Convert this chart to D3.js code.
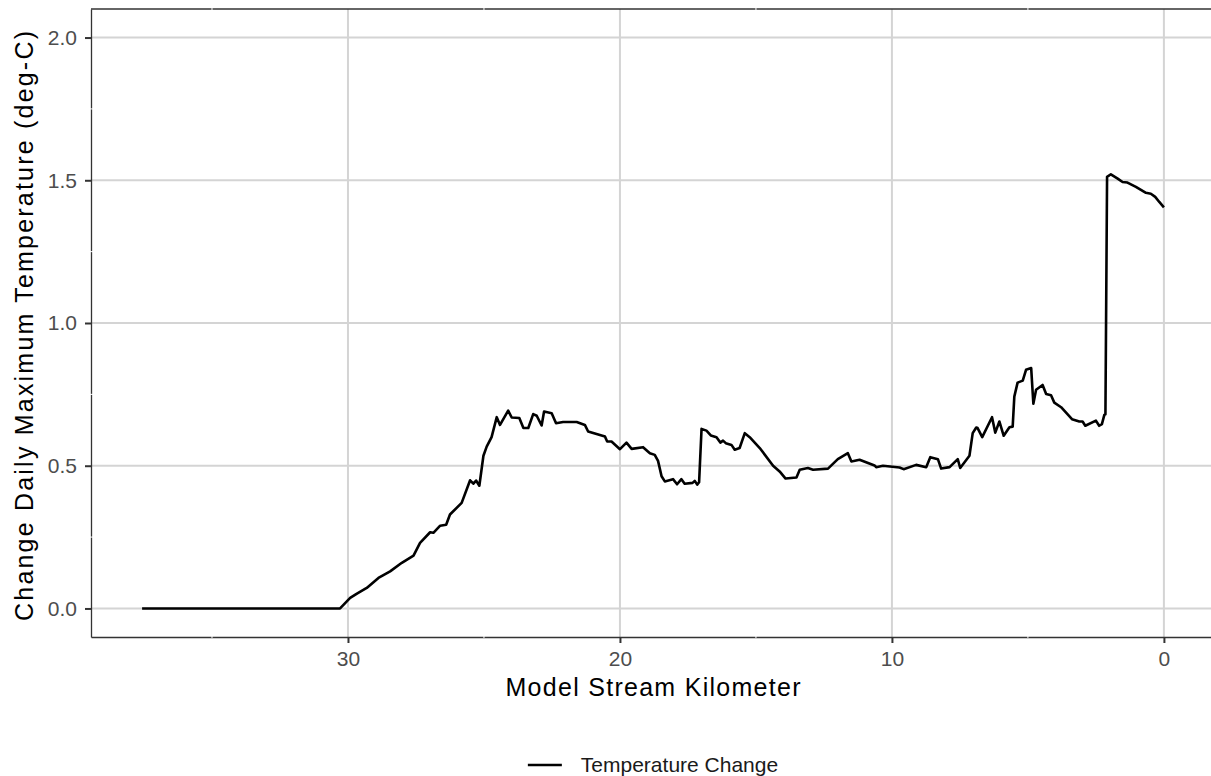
<!DOCTYPE html>
<html>
<head>
<meta charset="utf-8">
<script src="https://cdn.jsdelivr.net/npm/d3@7"></script>
<style>
  html, body { margin: 0; padding: 0; background: #fff; }
  svg { display: block; font-family: "Liberation Sans", Arial, sans-serif; }
</style>
</head>
<body>
<svg id="chart" width="1211" height="776"></svg>
<script>
// ---- data ----
const streamKm = [
  37.57, 30.29, 29.92, 29.67, 29.31, 28.88, 28.45, 28.02, 27.59, 27.35,
  26.98, 26.86, 26.61, 26.39, 26.25, 25.82, 25.51, 25.39, 25.29, 25.17,
  25.02, 24.90, 24.72, 24.53, 24.41, 24.11, 23.98, 23.70, 23.55, 23.37,
  23.19, 23.06, 22.88, 22.79, 22.51, 22.35, 22.09, 21.59, 21.29, 21.17,
  20.86, 20.55, 20.47, 20.31, 20.00, 19.76, 19.57, 19.15, 18.90, 18.72,
  18.60, 18.47, 18.35, 18.05, 17.90, 17.74, 17.62, 17.33, 17.25, 17.16,
  17.09, 17.00, 16.82, 16.66, 16.45, 16.31, 16.21, 16.11, 15.90, 15.78,
  15.60, 15.41, 15.23, 14.86, 14.37, 14.13, 13.91, 13.51, 13.39, 13.09,
  12.90, 12.35, 11.99, 11.62, 11.49, 11.19, 10.64, 10.58, 10.33, 9.72,
  9.57, 9.11, 8.74, 8.59, 8.31, 8.19, 7.88, 7.58, 7.49, 7.15,
  7.03, 6.90, 6.85, 6.68, 6.32, 6.20, 6.05, 5.89, 5.68, 5.56,
  5.50, 5.38, 5.19, 5.07, 4.88, 4.80, 4.70, 4.46, 4.33, 4.15,
  4.03, 3.78, 3.38, 3.11, 2.99, 2.89, 2.50, 2.38, 2.28, 2.19,
  2.15, 2.09, 1.95, 1.70, 1.52, 1.34, 1.03, 0.66, 0.48, 0.32,
  0.17, 0.00
];
const tempChange = [
  0.000, 0.000, 0.037, 0.052, 0.072, 0.107, 0.130, 0.160, 0.185, 0.230,
  0.267, 0.265, 0.290, 0.293, 0.329, 0.370, 0.449, 0.437, 0.448, 0.430,
  0.535, 0.567, 0.600, 0.670, 0.643, 0.693, 0.669, 0.667, 0.632, 0.632,
  0.681, 0.675, 0.641, 0.690, 0.684, 0.649, 0.653, 0.653, 0.643, 0.620,
  0.611, 0.602, 0.585, 0.585, 0.558, 0.581, 0.559, 0.565, 0.544, 0.538,
  0.517, 0.463, 0.445, 0.453, 0.435, 0.453, 0.437, 0.440, 0.447, 0.434,
  0.442, 0.629, 0.623, 0.606, 0.600, 0.581, 0.588, 0.579, 0.573, 0.556,
  0.562, 0.614, 0.600, 0.562, 0.500, 0.480, 0.455, 0.459, 0.486, 0.492,
  0.486, 0.490, 0.523, 0.544, 0.515, 0.521, 0.501, 0.495, 0.500, 0.494,
  0.488, 0.503, 0.495, 0.530, 0.523, 0.490, 0.495, 0.523, 0.492, 0.535,
  0.614, 0.634, 0.632, 0.600, 0.670, 0.616, 0.655, 0.605, 0.635, 0.637,
  0.742, 0.791, 0.798, 0.836, 0.842, 0.717, 0.766, 0.783, 0.751, 0.747,
  0.721, 0.705, 0.663, 0.655, 0.655, 0.640, 0.658, 0.640, 0.646, 0.678,
  0.680, 1.512, 1.521, 1.506, 1.494, 1.492, 1.477, 1.456, 1.453, 1.442,
  1.424, 1.405
];
const xTicks = [0, 10, 20, 30];
const xMinorTicks = [5, 15, 25, 35];
const yTicks = [0.0, 0.5, 1.0, 1.5, 2.0];
const yMinorTicks = [0.25, 0.75, 1.25, 1.75];
const seriesName = "Temperature Change";
const xTitle = "Model Stream Kilometer";
const yTitle = "Change Daily Maximum Temperature (deg-C)";

// ---- layout ----
const svg = d3.select("#chart");
const panel = { left: 91, right: 1215, top: 9, bottom: 637 };

const data = streamKm.map((k, i) => ({ km: k, v: tempChange[i] }));

const xExt = d3.extent(streamKm);
const xPad = (xExt[1] - xExt[0]) * 0.05;
const x = d3.scaleLinear()
  .domain([xExt[1] + xPad, xExt[0] - xPad])
  .range([panel.left, panel.right]);

const y = d3.scaleLinear()
  .domain([-0.1, 2.1])
  .range([panel.bottom, panel.top]);

const gridColor = "#d4d4d4";
const axisColor = "#333333";

// gridlines
const grid = svg.append("g");
grid.selectAll("line.gx").data(xTicks).join("line")
  .attr("x1", d => x(d)).attr("x2", d => x(d))
  .attr("y1", panel.top).attr("y2", panel.bottom)
  .attr("stroke", gridColor).attr("stroke-width", 2);
grid.selectAll("line.gy").data(yTicks).join("line")
  .attr("x1", panel.left).attr("x2", panel.right)
  .attr("y1", d => y(d)).attr("y2", d => y(d))
  .attr("stroke", gridColor).attr("stroke-width", 2);

// data line
const line = d3.line().x(d => x(d.km)).y(d => y(d.v));
svg.append("path").datum(data)
  .attr("d", line)
  .attr("fill", "none")
  .attr("stroke", "#000")
  .attr("stroke-width", 2.6)
  .attr("stroke-linejoin", "round");

// panel border top
svg.append("line")
  .attr("x1", panel.left).attr("x2", panel.right)
  .attr("y1", panel.top).attr("y2", panel.top)
  .attr("stroke", axisColor).attr("stroke-width", 1.3);

// axes
const xAxis = d3.axisBottom(x).tickValues(xTicks).tickFormat(d3.format("d"))
  .tickSize(6).tickSizeOuter(0).tickPadding(8);
const yAxis = d3.axisLeft(y).tickValues(yTicks).tickFormat(d3.format(".1f"))
  .tickSize(6).tickSizeOuter(0).tickPadding(8);

const gx = svg.append("g").attr("transform", `translate(0,${panel.bottom})`).call(xAxis);
const gy = svg.append("g").attr("transform", `translate(${panel.left},0)`).call(yAxis);

[gx, gy].forEach(g => {
  g.select(".domain").attr("stroke", axisColor).attr("stroke-width", 1.3);
  g.selectAll(".tick line").attr("stroke", axisColor).attr("stroke-width", 2);
  g.selectAll(".tick text")
    .attr("fill", "#4d4d4d")
    .style("font-size", "21px")
    .style("font-family", "'Liberation Sans', Arial, sans-serif");
});

// faint minor grid crossings visible as tiny gaps in the border lines
const minor = svg.append("g").attr("stroke", "#fff").attr("stroke-width", 1);
const xm = xMinorTicks.filter(d => x(d) > panel.left && x(d) < panel.right);
minor.selectAll("line.mx").data(xm).join("line")
  .attr("x1", d => x(d)).attr("x2", d => x(d))
  .attr("y1", panel.top - 1).attr("y2", panel.top + 2);
minor.selectAll("line.mxb").data(xm).join("line")
  .attr("x1", d => x(d)).attr("x2", d => x(d))
  .attr("y1", panel.bottom - 2).attr("y2", panel.bottom + 1);
minor.selectAll("line.my").data(yMinorTicks).join("line")
  .attr("x1", panel.left - 1).attr("x2", panel.left + 2)
  .attr("y1", d => y(d)).attr("y2", d => y(d));

// axis titles
const cx = (panel.left + panel.right) / 2;
svg.append("text")
  .attr("x", cx).attr("y", 696)
  .attr("text-anchor", "middle")
  .attr("textLength", 295).attr("lengthAdjust", "spacing")
  .style("font-size", "25px")
  .attr("fill", "#000")
  .text(xTitle);

svg.append("text")
  .attr("transform", `translate(33,${(panel.top + panel.bottom) / 2 + 3}) rotate(-90)`)
  .attr("text-anchor", "middle")
  .attr("textLength", 590).attr("lengthAdjust", "spacing")
  .style("font-size", "25px")
  .attr("fill", "#000")
  .text(yTitle);

// legend
const leg = svg.append("g");
const legText = leg.append("text")
  .attr("x", 0).attr("y", 0).attr("dy", "0.35em")
  .style("font-size", "21px").attr("fill", "#1a1a1a")
  .text(seriesName);
const tw = legText.node().getComputedTextLength();
const keyW = 34, gap = 19;
const total = keyW + gap + tw;
const lx0 = cx - total / 2;
const ly = 765;
leg.append("line")
  .attr("x1", lx0).attr("x2", lx0 + keyW)
  .attr("y1", ly).attr("y2", ly)
  .attr("stroke", "#000").attr("stroke-width", 2.6);
legText.attr("x", lx0 + keyW + gap).attr("y", ly);
</script>
</body>
</html>
